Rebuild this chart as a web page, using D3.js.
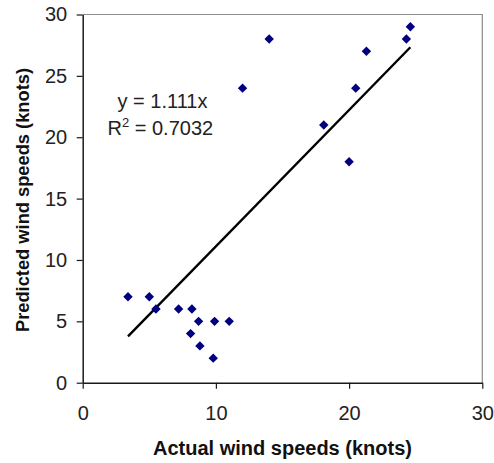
<!DOCTYPE html>
<html>
<head>
<meta charset="utf-8">
<script src="https://cdn.jsdelivr.net/npm/d3@7"></script>
<style>
  html, body { margin: 0; padding: 0; background: #fff; }
  svg { display: block; font-family: "Liberation Sans", Arial, sans-serif; }
</style>
</head>
<body>
<svg id="chart" width="494" height="463"></svg>
<script>
// Observed vs. predicted wind speeds (knots)
const actual    = [3.4, 5.0, 5.5, 7.2, 8.2, 8.7, 9.9, 11.0, 8.1, 8.8, 9.8, 12.0, 14.0, 24.6, 24.3, 21.3, 20.5, 18.1, 20.0];
const predicted = [7,   7,   6,   6,   6,   5,   5,   5,    4,   3,   2,   24,   28,   29,   28,   27,   24,   21,   18];
const xTicks = [0, 10, 20, 30];
const yTicks = [0, 5, 10, 15, 20, 25, 30];
const slope = 1.111;
const rSquared = "0.7032";

const svg = d3.select("#chart");
const m = { left: 82.7, top: 14.5, right: 482.3, bottom: 382.7 };
const fontSize = 20;

const x = d3.scaleLinear().domain([0, 30]).range([m.left, m.right]);
const y = d3.scaleLinear().domain([0, 30]).range([m.bottom, m.top]);

// plot frame (top and right edges)
svg.append("path")
  .attr("d", `M${m.left},${m.top}H${m.right}V${m.bottom}`)
  .attr("fill", "none").attr("stroke", "#8c8c8c").attr("stroke-width", 1.2);

// axes
const xAxis = svg.append("g").attr("transform", `translate(0,${m.bottom})`)
  .call(d3.axisBottom(x).tickValues(xTicks).tickSize(6).tickSizeOuter(0).tickPadding(17));
const yAxis = svg.append("g").attr("transform", `translate(${m.left},0)`)
  .call(d3.axisLeft(y).tickValues(yTicks).tickSize(6).tickSizeOuter(0).tickPadding(9.5));
[xAxis, yAxis].forEach(g => {
  g.select(".domain").attr("stroke", "#1a1a1a").attr("stroke-width", 1.5);
  g.selectAll(".tick line").attr("stroke", "#1a1a1a").attr("stroke-width", 1.2);
  g.selectAll(".tick text").attr("fill", "#222").attr("font-size", fontSize)
    .attr("font-family", "'Liberation Sans', Arial, sans-serif");
});
xAxis.selectAll(".tick text").attr("dy", "0.71em");

// trend line through the origin, spanning the data range
const [xMin, xMax] = d3.extent(actual);
svg.append("line")
  .attr("x1", x(xMin)).attr("y1", y(slope * xMin))
  .attr("x2", x(xMax)).attr("y2", y(slope * xMax))
  .attr("stroke", "#000").attr("stroke-width", 2.4);

// data points
svg.append("g").selectAll("path")
  .data(actual.map((a, i) => [a, predicted[i]]))
  .join("path")
  .attr("transform", d => `translate(${x(d[0])},${y(d[1])})`)
  .attr("d", "M0,-4.7L4.7,0L0,4.7L-4.7,0Z")
  .attr("fill", "#000080");

// equation
const eq = svg.append("g").attr("font-size", fontSize).attr("fill", "#222");
eq.append("text").attr("x", 162.5).attr("y", 107.5).attr("text-anchor", "middle")
  .text(`y = ${slope}x`);
const r2 = eq.append("text").attr("x", 107.5).attr("y", 134.5);
r2.append("tspan").text("R");
r2.append("tspan").attr("font-size", 13).attr("dy", -8).text("2");
r2.append("tspan").attr("dy", 8).text(` = ${rSquared}`);

// axis titles
svg.append("text")
  .attr("x", (m.left + m.right) / 2).attr("y", 455)
  .attr("text-anchor", "middle").attr("font-weight", "bold").attr("font-size", fontSize)
  .attr("fill", "#111")
  .text("Actual wind speeds (knots)");
svg.append("text")
  .attr("transform", "translate(28.5,200) rotate(-90)")
  .attr("text-anchor", "middle").attr("font-weight", "bold").attr("font-size", 18.3)
  .attr("fill", "#111")
  .text("Predicted wind speeds (knots)");
</script>
</body>
</html>
